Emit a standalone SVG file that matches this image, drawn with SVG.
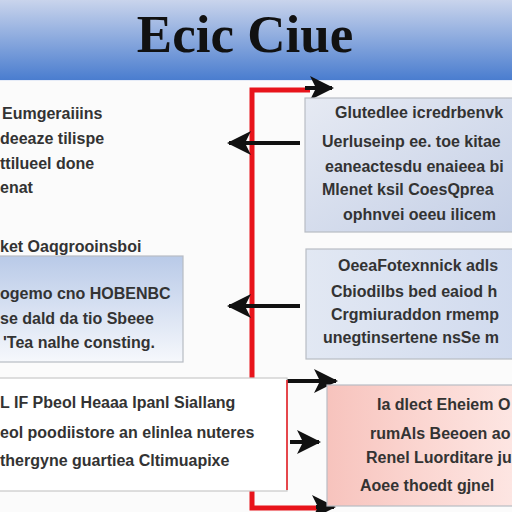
<svg xmlns="http://www.w3.org/2000/svg" width="512" height="512" viewBox="0 0 512 512">
<defs>
<linearGradient id="hdr" x1="0" y1="0" x2="0" y2="1"><stop offset="0" stop-color="#c9d4ec"/><stop offset="1" stop-color="#4a7dcf"/></linearGradient>
<linearGradient id="b1" x1="0" y1="0" x2="1" y2="1"><stop offset="0" stop-color="#e6eaf3"/><stop offset="1" stop-color="#c4cfe6"/></linearGradient>
<linearGradient id="b2" x1="0" y1="0" x2="0" y2="1"><stop offset="0" stop-color="#b9cae8"/><stop offset="1" stop-color="#f6f8fc"/></linearGradient>
<linearGradient id="b3" x1="0" y1="0" x2="1" y2="0"><stop offset="0" stop-color="#e2e8f3"/><stop offset="1" stop-color="#d0daee"/></linearGradient>
<linearGradient id="b4" x1="0" y1="0" x2="1" y2="0"><stop offset="0" stop-color="#f7c3bd"/><stop offset="0.5" stop-color="#fbd6d1"/><stop offset="1" stop-color="#fde6e3"/></linearGradient>
<marker id="ah" viewBox="0 0 12 12" refX="11" refY="6" markerWidth="6" markerHeight="6" markerUnits="strokeWidth" orient="auto">
<path d="M0,0 L12,6 L0,12 L3,6 Z" fill="#111"/>
</marker>
</defs>
<style>
.t{font-family:"Liberation Sans",Arial,sans-serif;font-size:16px;font-weight:bold;fill:#333}
.box{stroke:#b8bcc4;stroke-width:1.2}
.red{stroke:#e8141b;stroke-width:5;fill:none}
.arr{stroke:#111;stroke-width:4;fill:none;marker-end:url(#ah)}
</style>
<rect width="512" height="512" fill="#fbfbfb"/>
<g id="header">
<rect x="0" y="0" width="512" height="80" fill="url(#hdr)"/>
<line x1="0" y1="80.5" x2="512" y2="80.5" stroke="#e6ecf8" stroke-width="1"/>
<text x="245" y="52" text-anchor="middle" font-family="'Liberation Serif','Times New Roman',serif" font-weight="bold" font-size="53" fill="#111">Ecic Ciue</text>
</g>
<g id="connectors">
<polyline class="red" points="310,90 252,90 252,378"/>
<polyline class="red" points="252,490 252,508 318,508"/>
<line class="arr" x1="305" y1="88" x2="332" y2="88"/>
<line class="arr" x1="300" y1="143" x2="229" y2="143"/>
<line class="arr" x1="300" y1="306" x2="229" y2="306"/>
<line class="arr" x1="287" y1="381" x2="336" y2="381"/>
<line class="arr" x1="290" y1="442" x2="319" y2="442"/>
<line class="arr" x1="316" y1="507" x2="334" y2="507"/>
</g>
<g id="left-text">
<text class="t" x="2" y="119">Eumgeraiiins</text>
<text class="t" x="0" y="144">deeaze tilispe</text>
<text class="t" x="0" y="169">ttilueel done</text>
<text class="t" x="0" y="193">enat</text>
</g>
<g id="box-right-1">
<rect class="box" x="305" y="98" width="212" height="134" fill="url(#b1)"/>
<text class="t" x="335" y="118">Glutedlee icredrbenvk</text>
<text class="t" x="322" y="147">Uerluseinp ee. toe kitae</text>
<text class="t" x="325" y="172">eaneactesdu enaieea bi</text>
<text class="t" x="322" y="195">Mlenet ksil CoesQprea</text>
<text class="t" x="343" y="220">ophnvei oeeu ilicem</text>
</g>
<g id="box-left-2">
<text class="t" x="0" y="252">ket Oaqgrooinsboi</text>
<rect class="box" x="-5" y="256" width="188" height="106" fill="url(#b2)"/>
<text class="t" x="0" y="299">ogemo cno HOBENBC</text>
<text class="t" x="0" y="324">se dald da tio Sbeee</text>
<text class="t" x="3" y="348">'Tea nalhe consting.</text>
</g>
<g id="box-right-2">
<rect class="box" x="306" y="249" width="211" height="110" fill="url(#b3)"/>
<text class="t" x="338" y="271">OeeaFotexnnick adls</text>
<text class="t" x="331" y="297">Cbiodilbs bed eaiod h</text>
<text class="t" x="331" y="320">Crgmiuraddon rmemp</text>
<text class="t" x="323" y="343">unegtinsertene nsSe m</text>
</g>
<g id="box-bottom-left">
<rect x="-5" y="378" width="292" height="113" fill="#ffffff" stroke="#c8c8c8" stroke-width="1.2"/>
<line x1="287" y1="380" x2="287" y2="490" stroke="#e8141b" stroke-width="1.5"/>
<text class="t" x="0" y="408">L IF Pbeol Heaaa Ipanl Siallang</text>
<text class="t" x="0" y="438">eol poodiistore an elinlea nuteres</text>
<text class="t" x="0" y="466">thergyne guartiea Cltimuapixe</text>
</g>
<g id="box-bottom-right">
<rect class="box" x="327" y="385" width="190" height="121" fill="url(#b4)"/>
<text class="t" x="377" y="410">Ia dlect Eheiem O</text>
<text class="t" x="370" y="439">rumAls Beeoen ao</text>
<text class="t" x="366" y="463">Renel Luorditare ju</text>
<text class="t" x="360" y="491">Aoee thoedt gjnel</text>
</g>
</svg>
